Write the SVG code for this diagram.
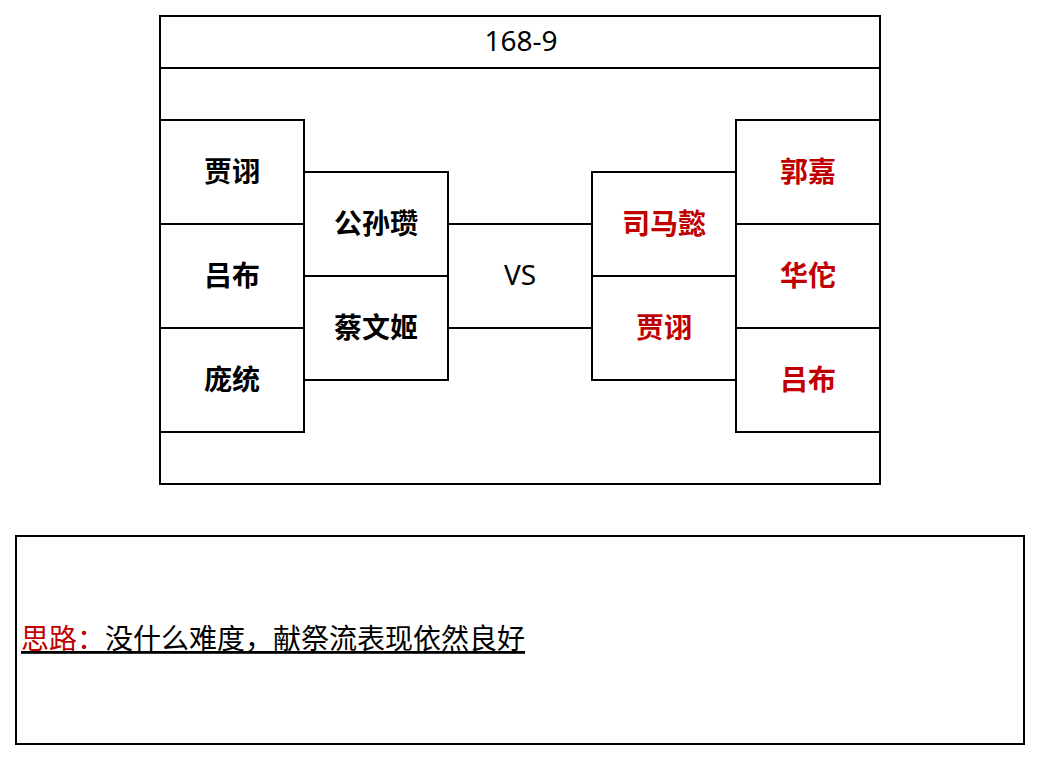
<svg xmlns="http://www.w3.org/2000/svg" width="1040" height="760" viewBox="0 0 1040 760">
<style>
.box{fill:#fff;stroke:#000;stroke-width:2}
.ln{stroke:#000;stroke-width:2;fill:none}
.nm{font-family:"Noto Sans CJK SC","Noto Sans",sans-serif;font-size:28px;font-weight:bold;text-anchor:middle;dominant-baseline:central}
.red{fill:#c00000}
.blk{fill:#000}
.t{font-family:"Noto Sans","Noto Sans CJK SC",sans-serif;font-size:28px;text-anchor:middle;dominant-baseline:central}
</style>
<rect width="1040" height="760" fill="#fff"/>
<g id="frame">
<rect class="box" x="160" y="16" width="720" height="468"/>
<line class="ln" x1="160" y1="68" x2="880" y2="68"/>
<text class="t" x="521" y="40">168-9</text>
</g>
<g id="connectors">
<line class="ln" x1="448" y1="224" x2="592" y2="224"/>
<line class="ln" x1="448" y1="328" x2="592" y2="328"/>
</g>
<g id="vs"><text class="t" x="520" y="274">VS</text></g>
<g id="l1"><rect class="box" x="160" y="120" width="144" height="104"/><text class="nm blk" x="232" y="170">贾诩</text></g>
<g id="l2"><rect class="box" x="160" y="224" width="144" height="104"/><text class="nm blk" x="232" y="274">吕布</text></g>
<g id="l3"><rect class="box" x="160" y="328" width="144" height="104"/><text class="nm blk" x="232" y="378">庞统</text></g>
<g id="l4"><rect class="box" x="304" y="172" width="144" height="104"/><text class="nm blk" x="376" y="222">公孙瓒</text></g>
<g id="l5"><rect class="box" x="304" y="276" width="144" height="104"/><text class="nm blk" x="376" y="326">蔡文姬</text></g>
<g id="r4"><rect class="box" x="592" y="172" width="144" height="104"/><text class="nm red" x="664" y="222">司马懿</text></g>
<g id="r5"><rect class="box" x="592" y="276" width="144" height="104"/><text class="nm red" x="664" y="326">贾诩</text></g>
<g id="r1"><rect class="box" x="736" y="120" width="144" height="104"/><text class="nm red" x="808" y="170">郭嘉</text></g>
<g id="r2"><rect class="box" x="736" y="224" width="144" height="104"/><text class="nm red" x="808" y="274">华佗</text></g>
<g id="r3"><rect class="box" x="736" y="328" width="144" height="104"/><text class="nm red" x="808" y="378">吕布</text></g>
<g id="note">
<rect class="box" x="16" y="536" width="1008" height="208"/>
<text x="21" y="649" font-family="Noto Sans CJK SC,sans-serif" font-size="28" text-decoration="underline"><tspan fill="#c00000">思路：</tspan><tspan fill="#000">没什么难度，献祭流表现依然良好</tspan></text>
</g>
</svg>
